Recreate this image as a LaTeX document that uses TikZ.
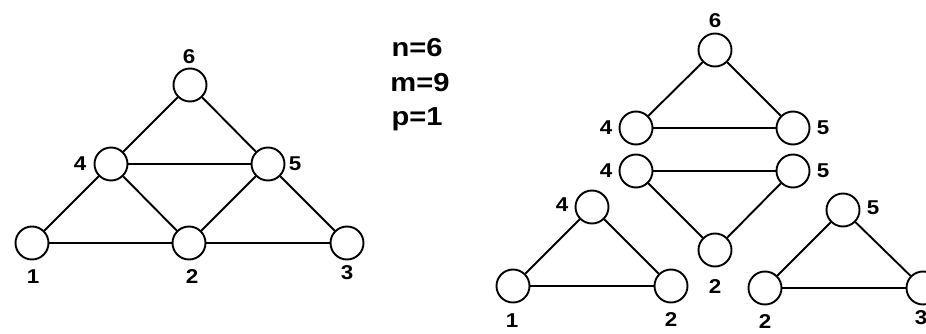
\documentclass[tikz,border=0pt]{standalone}
\usepackage{fontspec}
\setmainfont{Liberation Sans}
\usepackage{tikz}

\begin{document}
\begin{tikzpicture}[
  x=1pt, y=-1pt,
  vertex/.style={draw, circle, line width=1.9pt, minimum size=33pt, inner sep=0pt, fill=white},
  edge/.style={line width=1.9pt},
  lbl/.style={font=\fontsize{20}{20}\selectfont\bfseries, inner sep=0pt, xscale=1.12},
  info/.style={font=\fontsize{26}{26}\selectfont\bfseries, inner sep=0pt, xscale=1.12}
]
  \useasboundingbox (0,0) rectangle (926,334);

  % whole graph
  \node[vertex] (g6) at (190,85) {};
  \node[vertex] (g4) at (111,164) {};
  \node[vertex] (g5) at (268,164) {};
  \node[vertex] (g1) at (32,243) {};
  \node[vertex] (g2) at (189,243) {};
  \node[vertex] (g3) at (347,243) {};
  \draw[edge] (g6) -- (g4);
  \draw[edge] (g6) -- (g5);
  \draw[edge] (g4) -- (g5);
  \draw[edge] (g4) -- (g1);
  \draw[edge] (g4) -- (g2);
  \draw[edge] (g5) -- (g2);
  \draw[edge] (g5) -- (g3);
  \draw[edge] (g1) -- (g2);
  \draw[edge] (g2) -- (g3);
  \node[lbl] (lg6) at (189,57) {6};
  \node[lbl] (lg4) at (80,164) {4};
  \node[lbl] (lg5) at (295,164) {5};
  \node[lbl] (lg1) at (33,277) {1};
  \node[lbl] (lg2) at (192,277) {2};
  \node[lbl] (lg3) at (347,273) {3};

  % counts
  \node[info] (nn) at (417,48) {n=6};
  \node[info] (mm) at (420,83) {m=9};
  \node[info] (pp) at (417,119) {p=1};

  % triangle 6-4-5
  \node[vertex] (a6) at (715,50) {};
  \node[vertex] (a4) at (636,128) {};
  \node[vertex] (a5) at (793,128) {};
  \draw[edge] (a6) -- (a4);
  \draw[edge] (a6) -- (a5);
  \draw[edge] (a4) -- (a5);
  \node[lbl] (la6) at (715,21) {6};
  \node[lbl] (la4) at (606,128) {4};
  \node[lbl] (la5) at (823,128) {5};

  % triangle 4-5-2
  \node[vertex] (b4) at (636,171) {};
  \node[vertex] (b5) at (793,171) {};
  \node[vertex] (b2) at (715,250) {};
  \draw[edge] (b4) -- (b5);
  \draw[edge] (b4) -- (b2);
  \draw[edge] (b5) -- (b2);
  \node[lbl] (lb4) at (606,171) {4};
  \node[lbl] (lb5) at (823,171) {5};
  \node[lbl] (lb2) at (715,287) {2};

  % triangle 4-1-2
  \node[vertex] (c4) at (592,207) {};
  \node[vertex] (c1) at (513,286) {};
  \node[vertex] (c2) at (671,286) {};
  \draw[edge] (c4) -- (c1);
  \draw[edge] (c4) -- (c2);
  \draw[edge] (c1) -- (c2);
  \node[lbl] (lc4) at (562,205) {4};
  \node[lbl] (lc1) at (512,321) {1};
  \node[lbl] (lc2) at (671,320) {2};

  % triangle 5-2-3
  \node[vertex] (d5) at (843,210) {};
  \node[vertex] (d2) at (765,288) {};
  \node[vertex] (d3) at (923,288) {};
  \draw[edge] (d5) -- (d2);
  \draw[edge] (d5) -- (d3);
  \draw[edge] (d2) -- (d3);
  \node[lbl] (ld5) at (873,208) {5};
  \node[lbl] (ld2) at (765,322) {2};
  \node[lbl] (ld3) at (921,318) {3};
\end{tikzpicture}
\end{document}
